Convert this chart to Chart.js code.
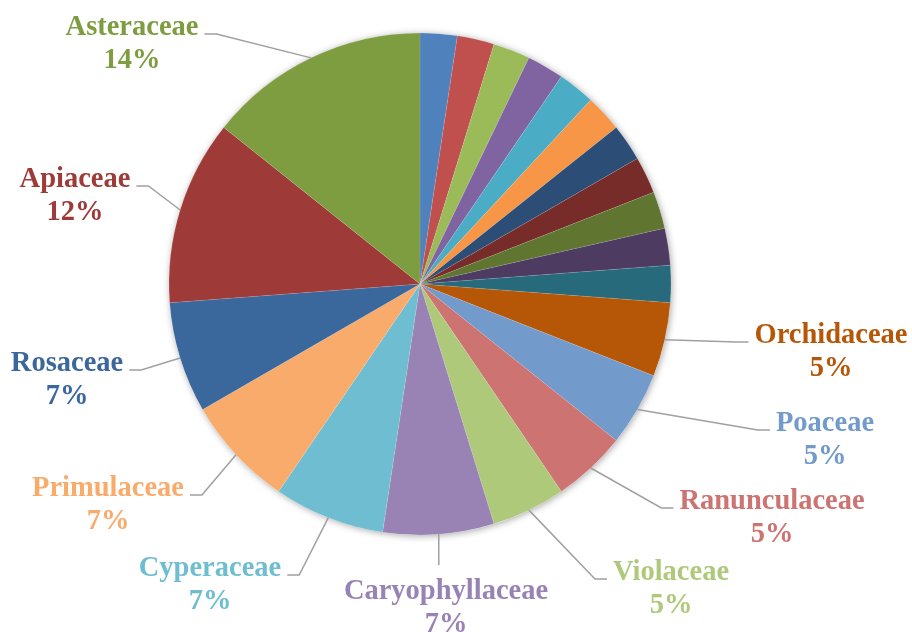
<!DOCTYPE html>
<html lang="en">
<head>
<meta charset="UTF-8">
<title>Plant families</title>
<style>
  html, body { margin: 0; padding: 0; background: #fff; }
  .chart_container { width: 912px; height: 632px; }
</style>
</head>
<body>
<div class="chart_container">
  <canvas class="familyPie" width="912" height="632"></canvas>
</div>

<script src="https://cdn.jsdelivr.net/npm/chart.js"></script>
<script>
// species per family, clockwise from 12 o'clock; the one-species families carry no label
let families = ['', '', '', '', '', '', '', '', '', '', '',
  'Orchidaceae', 'Poaceae', 'Ranunculaceae', 'Violaceae', 'Caryophyllaceae',
  'Cyperaceae', 'Primulaceae', 'Rosaceae', 'Apiaceae', 'Asteraceae'];
let speciesCount = [1, 1, 1, 1, 1, 1, 1, 1, 1, 1, 1,
  2, 2, 2, 2, 3, 3, 3, 3, 5, 6];
let sliceColors = ['#4F81BD', '#C0504D', '#9BBB59', '#8064A2', '#4BACC6', '#F79646',
  '#2C4D75', '#772C2A', '#5F7530', '#4D3B62', '#276A7C',
  '#B65708', '#729ACA', '#CD7371', '#AFC97A', '#9983B5',
  '#6FBDD1', '#F9AB6B', '#3A679C', '#9E3B38', '#7E9C40'];

// where each label sits: offset of text centre / first baseline from the pie centre
const labelSpots = {
  Asteraceae:      [-288, -249],
  Apiaceae:        [-345, -97],
  Rosaceae:        [-353, 87],
  Primulaceae:     [-312, 212],
  Cyperaceae:      [-210, 292],
  Caryophyllaceae: [26, 315, 'below'],
  Violaceae:       [251, 296],
  Ranunculaceae:   [352, 225],
  Poaceae:         [405, 147],
  Orchidaceae:     [411, 59]
};

// soft shadow under the whole pie
const pieShadow = {
  id: 'pieShadow',
  beforeDatasetsDraw(chart) {
    const arc = chart.getDatasetMeta(0).data[0];
    const ctx = chart.ctx;
    ctx.save();
    ctx.shadowColor = 'rgba(0,0,0,0.35)';
    ctx.shadowBlur = 7;
    ctx.shadowOffsetX = 1;
    ctx.shadowOffsetY = 1;
    ctx.fillStyle = '#fff';
    ctx.beginPath();
    ctx.arc(arc.x, arc.y, arc.outerRadius, 0, Math.PI * 2);
    ctx.fill();
    ctx.restore();
  }
};

// name + percent with a grey leader line back to the slice
const familyLabels = {
  id: 'familyLabels',
  afterDatasetsDraw(chart) {
    const ctx = chart.ctx;
    const meta = chart.getDatasetMeta(0);
    const total = speciesCount.reduce((a, b) => a + b, 0);
    ctx.save();
    ctx.font = "bold 28.5px 'Liberation Serif', 'Times New Roman', serif";
    ctx.textAlign = 'center';
    ctx.textBaseline = 'alphabetic';
    meta.data.forEach((arc, i) => {
      const name = families[i];
      const spot = labelSpots[name];
      if (!name || !spot) return;
      const mid = (arc.startAngle + arc.endAngle) / 2;
      const ax = arc.x + Math.cos(mid) * arc.outerRadius;
      const ay = arc.y + Math.sin(mid) * arc.outerRadius;
      const tx = arc.x + spot[0];
      const ty = arc.y + spot[1];
      const w = ctx.measureText(name).width;

      ctx.strokeStyle = '#a0a0a0';
      ctx.lineWidth = 1.5;
      ctx.beginPath();
      ctx.moveTo(ax, ay);
      if (spot[2] === 'below') {
        ctx.lineTo(ax, ty - 34);
      } else {
        const side = tx > ax ? -1 : 1;
        const edge = tx + side * (w / 2 + 6);
        ctx.lineTo(edge + side * 12, ty - 1);
        ctx.lineTo(edge, ty - 1);
      }
      ctx.stroke();

      ctx.fillStyle = sliceColors[i];
      ctx.fillText(name, tx, ty);
      ctx.fillText(Math.round(speciesCount[i] / total * 100) + '%', tx, ty + 33);
    });
    ctx.restore();
  }
};

const pieEl = document.querySelector('.familyPie');
const familyChart = new Chart(pieEl, {
  type: 'pie',
  data: {
    labels: families,
    datasets: [{
      data: speciesCount,
      backgroundColor: sliceColors,
      borderColor: 'rgba(255,255,255,0.2)',
      borderWidth: 0.5
    }]
  },
  options: {
    responsive: false,
    animation: false,
    radius: 251,
    layout: { padding: { left: 0, right: 72, top: 0, bottom: 64 } },
    plugins: {
      legend: { display: false },
      tooltip: { enabled: false }
    }
  },
  plugins: [pieShadow, familyLabels]
});
</script>
</body>
</html>
